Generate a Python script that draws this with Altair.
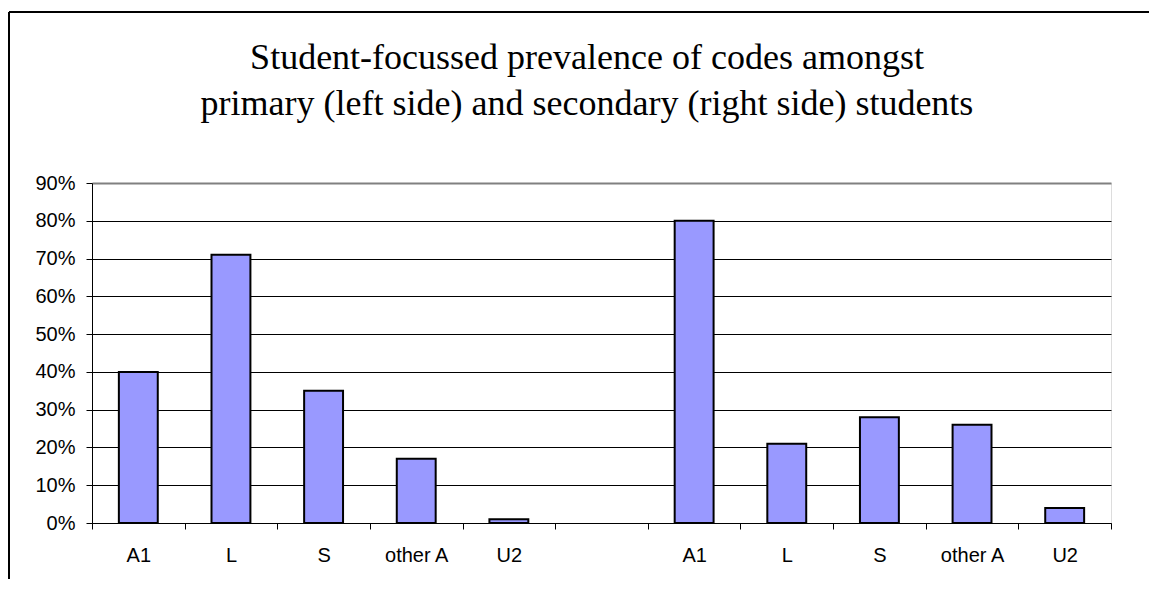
import json
import altair as alt
import pandas as pd

TITLE_LINES = [
    "Student-focussed prevalence of codes amongst",
    "primary (left side) and secondary (right side) students",
]
CATEGORIES = ["A1", "L", "S", "other A", "U2", "", "A1", "L", "S", "other A", "U2"]
VALUES = [0.40, 0.71, 0.35, 0.17, 0.01, None, 0.80, 0.21, 0.28, 0.26, 0.04]
Y_TICKS = [0.0, 0.1, 0.2, 0.3, 0.4, 0.5, 0.6, 0.7, 0.8, 0.9]

W, H = 1019, 340
PAD = {"left": 84, "top": 175, "right": 38, "bottom": 56}

df = pd.DataFrame({"idx": list(range(len(CATEGORIES))), "label": CATEGORIES, "value": VALUES})
bars_df = df.dropna()

label_expr = json.dumps(CATEGORIES) + "[datum.value]"

x_enc = alt.X(
    "idx:O",
    scale=alt.Scale(domain=list(range(len(CATEGORIES))), paddingInner=0, paddingOuter=0),
    axis=alt.Axis(
        title=None,
        labelExpr=label_expr,
        labelAngle=0,
        tickBand="extent",
        tickSize=6,
        tickColor="#000000",
        domainColor="#000000",
        labelPadding=16,
        labelFont="Liberation Sans",
        labelFontSize=20,
        labelColor="#000000",
        grid=False,
        labelBaseline="top",
    ),
)
y_enc = alt.Y(
    "value:Q",
    scale=alt.Scale(domain=[0, 0.9], nice=False, zero=True),
    axis=alt.Axis(
        title=None,
        values=Y_TICKS,
        format=".0%",
        tickSize=6,
        tickColor="#000000",
        domainColor="#000000",
        labelPadding=11,
        labelFont="Liberation Sans",
        labelFontSize=20,
        labelColor="#000000",
        grid=True,
        gridColor={"condition": {"test": "datum.value >= 0.89", "value": "#808080"}, "value": "#000000"},
        gridOpacity=1,
        gridWidth={"condition": {"test": "datum.value >= 0.89", "value": 2}, "value": 1},
    ),
)

bars = alt.Chart(bars_df).mark_bar(
    width=alt.RelativeBandSize(0.42),
    fill="#9999FF",
    stroke="#000000",
    strokeWidth=2,
).encode(x=x_enc, y=y_enc)

one = pd.DataFrame({"a": [0]})
frame_top = alt.Chart(one).mark_rule(color="#000000", strokeWidth=2).encode(
    x=alt.value(-83), x2=alt.value(W + PAD["right"]), y=alt.value(-171)
)
frame_left = alt.Chart(one).mark_rule(color="#000000", strokeWidth=2).encode(
    x=alt.value(-83), y=alt.value(-171), y2=alt.value(H + PAD["bottom"])
)

title1 = alt.Chart(one).mark_text(
    font="Liberation Serif", fontSize=36, align="center", baseline="alphabetic", color="#000000"
).encode(text=alt.value(TITLE_LINES[0]), x=alt.value(495), y=alt.value(-114))
title2 = alt.Chart(one).mark_text(
    font="Liberation Serif", fontSize=36, align="center", baseline="alphabetic", color="#000000"
).encode(text=alt.value(TITLE_LINES[1]), x=alt.value(495), y=alt.value(-68))

chart = alt.layer(bars, frame_top, frame_left, title1, title2).properties(
    width=W,
    height=H,
    padding=PAD,
    autosize=alt.AutoSizeParams(type="none"),
).configure_view(stroke="#808080", strokeWidth=2).configure(background="#ffffff")

chart.save("out.html", embed_options={"renderer": "svg", "actions": False})
